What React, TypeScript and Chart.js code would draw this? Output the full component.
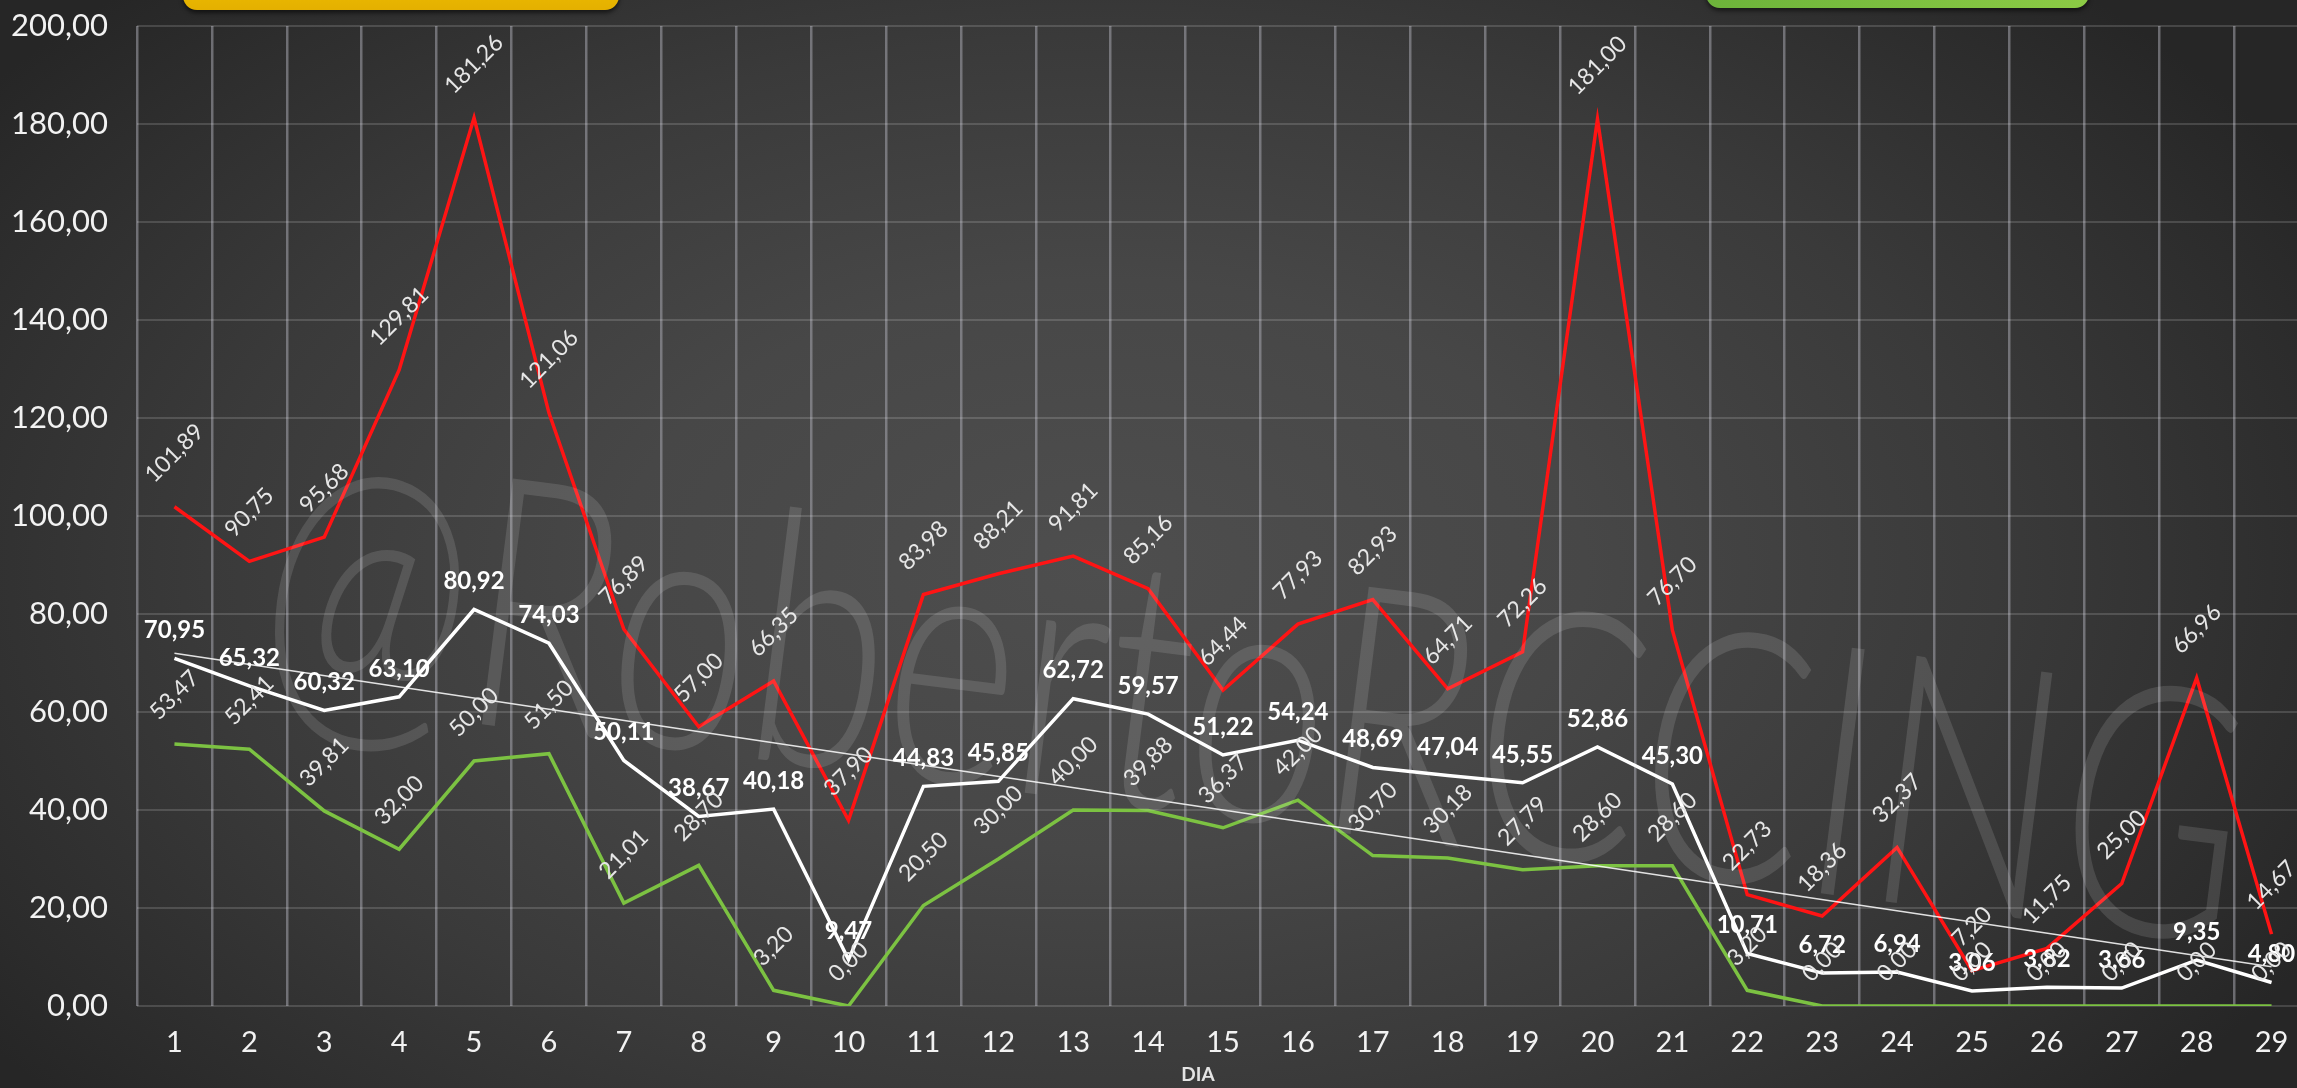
import React, { useEffect, useRef } from 'react';
import { Chart, registerables } from 'chart.js';

Chart.register(...registerables);

// ---------- data ----------
const days = ['1','2','3','4','5','6','7','8','9','10','11','12','13','14','15','16','17','18','19','20','21','22','23','24','25','26','27','28','29'];

const maxValues = [101.89, 90.75, 95.68, 129.81, 181.26, 121.06, 76.89, 57.00, 66.35, 37.90, 83.98, 88.21, 91.81, 85.16, 64.44, 77.93, 82.93, 64.71, 72.26, 181.00, 76.70, 22.73, 18.36, 32.37, 7.20, 11.75, 25.00, 66.96, 14.67];

const avgValues = [70.95, 65.32, 60.32, 63.10, 80.92, 74.03, 50.11, 38.67, 40.18, 9.47, 44.83, 45.85, 62.72, 59.57, 51.22, 54.24, 48.69, 47.04, 45.55, 52.86, 45.30, 10.71, 6.72, 6.94, 3.06, 3.82, 3.66, 9.35, 4.80];

const minValues = [53.47, 52.41, 39.81, 32.00, 50.00, 51.50, 21.01, 28.70, 3.20, 0.00, 20.50, 30.00, 40.00, 39.88, 36.37, 42.00, 30.70, 30.18, 27.79, 28.60, 28.60, 3.20, 0.00, 0.00, 0.00, 0.00, 0.00, 0.00, 0.00];

// trend line: value at day 1 and day 29
const trendStart = 72.0;
const trendEnd = 8.0;
const trendLine = days.map((_, i) => (i === 0 ? trendStart : i === days.length - 1 ? trendEnd : null));

const yMin = 0;
const yMax = 200;
const yStep = 20;

const axisTitle = 'DIA';
const watermarkText = '@RobertoRCCING';

const FONT = 'Lato, "Noto Sans", "DejaVu Sans", sans-serif';
const fmt = (v: number) => Number(v).toFixed(2).replace('.', ',');

const valueLabels = {
  id: 'valueLabels',
  afterDatasetsDraw(chart: any) {
    const ctx = chart.ctx;
    chart.data.datasets.forEach((ds: any, i: number) => {
      const style = ds.labelStyle;
      if (!style) return;
      const meta = chart.getDatasetMeta(i);
      meta.data.forEach((pt: any, j: number) => {
        const v = ds.data[j];
        if (v === null || v === undefined) return;
        const text = fmt(v);
        ctx.save();
        ctx.fillStyle = style.color;
        ctx.font = `${style.weight} ${style.size}px ${FONT}`;
        ctx.textAlign = 'center';
        ctx.textBaseline = 'middle';
        if (style.rotate) {
          const w = ctx.measureText(text).width;
          const off = ((w + style.size) * Math.SQRT1_2) / 2 + style.gap;
          ctx.translate(pt.x, pt.y - off);
          ctx.rotate(-Math.PI / 4);
          ctx.fillText(text, 0, 0);
        } else {
          ctx.fillText(text, pt.x, pt.y - style.gap);
        }
        ctx.restore();
      });
    });
  },
};

// axis title placed where the reference has it (slightly left of the plot centre)
const axisTitlePlugin = {
  id: 'axisTitle',
  afterDraw(chart: any) {
    const ctx = chart.ctx;
    ctx.save();
    ctx.font = `bold 19px ${FONT}`;
    ctx.fillStyle = '#e4e4e4';
    ctx.textAlign = 'center';
    ctx.textBaseline = 'middle';
    ctx.fillText(axisTitle, 1198, 1075);
    ctx.restore();
  },
};

const watermark = {
  id: 'watermark',
  afterDraw(chart: any) {
    const ctx = chart.ctx;
    const x0 = 250, y0 = 695, x1 = 2230, y1 = 945;
    const len = Math.hypot(x1 - x0, y1 - y0);
    const ang = Math.atan2(y1 - y0, x1 - x0);
    ctx.save();
    ctx.font = `300 350px ${FONT}`;
    const w = ctx.measureText(watermarkText).width;
    ctx.translate(x0, y0);
    ctx.rotate(ang);
    ctx.scale(len / w, 1);
    ctx.fillStyle = 'rgba(255,255,255,0.12)';
    ctx.textAlign = 'left';
    ctx.textBaseline = 'alphabetic';
    ctx.fillText(watermarkText, 0, 0);
    ctx.restore();
  },
};

export default function App() {
  const ref = useRef<HTMLCanvasElement | null>(null);

  useEffect(() => {
    document.body.style.margin = '0';
    document.body.style.overflow = 'hidden';
    if (!ref.current) return;
    const chart = new Chart(ref.current, {
      type: 'line',
      data: {
        labels: days,
        datasets: [
          {
            label: 'Tendencia',
            data: trendLine,
            borderColor: 'rgba(255,255,255,0.85)',
            borderWidth: 1.5,
            spanGaps: true,
            pointRadius: 0,
            order: 0,
          } as any,
          {
            label: 'Media',
            data: avgValues,
            borderColor: '#ffffff',
            borderWidth: 3.5,
            pointRadius: 0,
            order: 1,
            labelStyle: { color: '#ffffff', size: 24, weight: 'bold', rotate: false, gap: 28 },
          },
          {
            label: 'Máximo',
            data: maxValues,
            borderColor: '#ff1414',
            borderWidth: 3.5,
            pointRadius: 0,
            order: 2,
            labelStyle: { color: '#e6e6e6', size: 23, weight: 'normal', rotate: true, gap: 20 },
          },
          {
            label: 'Mínimo',
            data: minValues,
            borderColor: '#7cc242',
            borderWidth: 3.5,
            pointRadius: 0,
            order: 3,
            labelStyle: { color: '#e6e6e6', size: 23, weight: 'normal', rotate: true, gap: 20 },
          },
        ],
      },
      options: {
        responsive: false,
        animation: false,
        devicePixelRatio: 1,
        layout: { padding: { top: 26, right: 3, bottom: 0, left: 0 } },
        elements: { line: { tension: 0 }, point: { radius: 0 } },
        plugins: { legend: { display: false }, tooltip: { enabled: false } },
        scales: {
          x: {
            offset: true,
            grid: { offset: true, color: 'rgba(175,175,185,0.5)', lineWidth: 2.5, drawTicks: false },
            border: { display: false },
            ticks: { color: '#f2f2f2', font: { family: FONT, size: 29 }, padding: 19, maxRotation: 0, autoSkip: false },
            title: { display: false },
            afterFit: (s: any) => { s.height = 82; },
          },
          y: {
            min: yMin,
            max: yMax,
            ticks: { stepSize: yStep, color: '#f2f2f2', font: { family: FONT, size: 31 }, padding: 29, callback: (v: any) => fmt(v) },
            grid: { color: 'rgba(255,255,255,0.15)', lineWidth: 2, drawTicks: false },
            border: { display: false },
            afterFit: (s: any) => {
              s.width = 137;
              s.paddingTop = 0;
              s.paddingBottom = 0;
            },
          },
        },
      } as any,
      plugins: [valueLabels, axisTitlePlugin, watermark],
    });
    return () => chart.destroy();
  }, []);

  return (
    <div
      style={{
        position: 'fixed',
        left: 0,
        top: 0,
        width: 2297,
        height: 1088,
        overflow: 'hidden',
        background:
          'radial-gradient(ellipse 60% 75% at 48% 52%, #4e4e4e 0%, #474747 35%, #3a3a3a 65%, #2c2c2c 90%, #262626 100%)',
      }}
    >
      <canvas ref={ref} width={2312} height={1088} style={{ position: 'absolute', left: 0, top: 0, width: 2312, height: 1088 }} />
      <div
        style={{
          position: 'absolute', left: 183, top: -32, width: 436, height: 42,
          background: 'linear-gradient(#f2c200, #e4b000)', borderRadius: 14,
          boxShadow: '0 3px 4px rgba(0,0,0,0.55)',
        }}
      />
      <div
        style={{
          position: 'absolute', left: 1706, top: -34, width: 383, height: 42,
          background: 'linear-gradient(90deg, #6cb33a, #8ccb45)', borderRadius: 14,
          boxShadow: '0 3px 4px rgba(0,0,0,0.5)',
        }}
      />
    </div>
  );
}
